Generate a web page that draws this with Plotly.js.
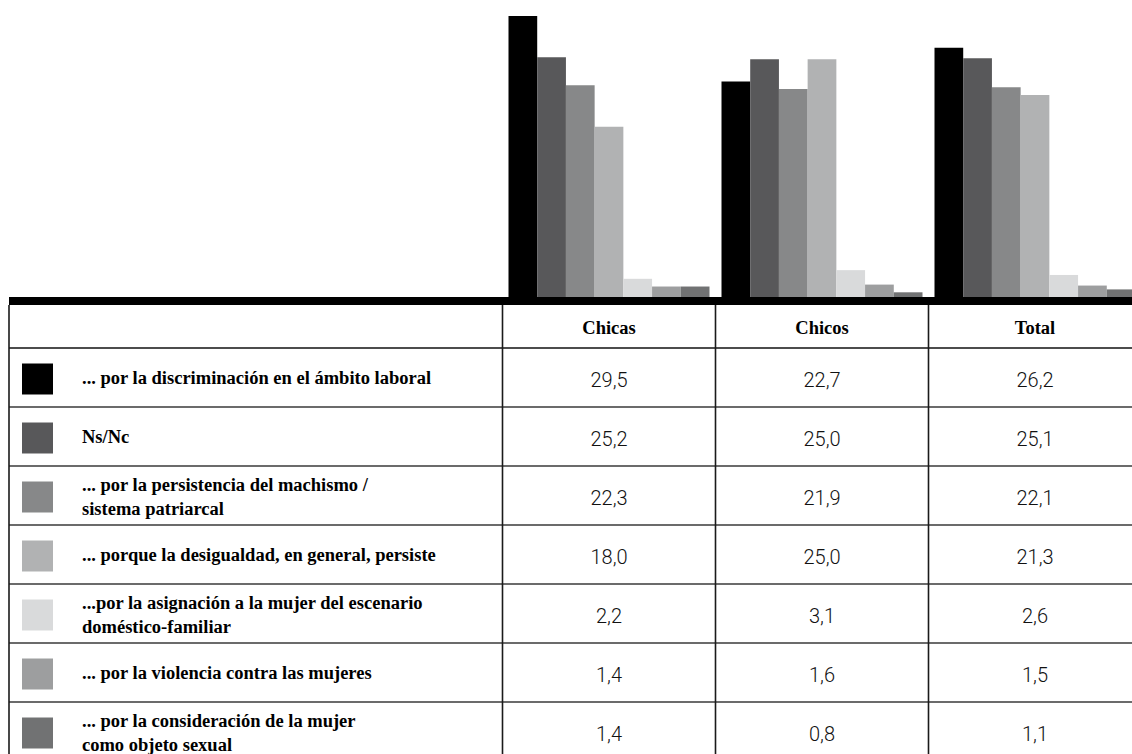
<!DOCTYPE html>
<html>
<head>
<meta charset="utf-8">
<script src="https://cdn.plot.ly/plotly-3.0.1.min.js"></script>
<style>
  html, body { margin: 0; padding: 0; background: #ffffff; }
  #chart { width: 1132px; height: 754px; }
</style>
</head>
<body>
<div id="chart"></div>
<script>
// ---------- data ----------
const groups = ['Chicas', 'Chicos', 'Total'];
const reasons = [
  '... por la discriminación en el ámbito laboral',
  'Ns/Nc',
  '... por la persistencia del machismo /<br>sistema patriarcal',
  '... porque la desigualdad, en general, persiste',
  '...por la asignación a la mujer del escenario<br>doméstico-familiar',
  '... por la violencia contra las mujeres',
  '... por la consideración de la mujer<br>como objeto sexual'
];
const chicas = [29.5, 25.2, 22.3, 18.0, 2.2, 1.4, 1.4];
const chicos = [22.7, 25.0, 21.9, 25.0, 3.1, 1.6, 0.8];
const total  = [26.2, 25.1, 22.1, 21.3, 2.6, 1.5, 1.1];
const colors = ['#000000', '#58585a', '#878889', '#b1b2b3', '#d9dadb', '#9d9e9f', '#717273'];

// ---------- layout constants (pixels) ----------
const W = 1132, H = 754;
const colW = 213;              // width of a data column
const firstColCenter = 609;    // centre of "Chicas" column
const tableLeft = 9;
const barBottom = 300;         // bar baseline pixel
const bandTop = 297, bandBot = 305;
const headerBot = 348;
const rowH = 59;
const pxPerUnit = 9.63;

const px2x = p => (p - firstColCenter) / colW;           // pixel -> x2 units
const py2row = p => (p - (headerBot + rowH / 2)) / rowH;  // pixel -> y2 units

const fmt = v => v.toFixed(1).replace('.', ',');
const serif = '"Liberation Serif", "Times New Roman", serif';
const light = 'Roboto, "Liberation Sans Narrow", "DejaVu Sans Condensed", sans-serif';

const traces = [];

// bars
reasons.forEach((r, i) => {
  traces.push({
    type: 'bar',
    x: groups,
    y: [chicas[i], chicos[i], total[i]],
    marker: { color: colors[i], line: { width: 0 } },
    name: r.replace('<br>', ' '),
    showlegend: false,
    hoverinfo: 'skip',
    xaxis: 'x', yaxis: 'y'
  });
});

// table: header
traces.push({
  type: 'scatter', mode: 'text',
  x: groups.map((g, i) => i),
  y: groups.map(() => py2row((bandBot + headerBot) / 2 + 3)),
  text: groups.map(g => '<b>' + g + '</b>'),
  textfont: { family: serif, size: 18.5, color: '#000' },
  textposition: 'middle center',
  hoverinfo: 'skip', showlegend: false,
  xaxis: 'x2', yaxis: 'y2', cliponaxis: false
});

// table: values
[chicas, chicos, total].forEach((arr, c) => {
  traces.push({
    type: 'scatter', mode: 'text',
    x: arr.map(() => c),
    y: arr.map((v, r) => r + 4.5 / rowH),
    text: arr.map(fmt),
    textfont: { family: light, size: 20, weight: 300, color: '#111' },
    textposition: 'middle center',
    hoverinfo: 'skip', showlegend: false,
    xaxis: 'x2', yaxis: 'y2', cliponaxis: false
  });
});

// table: swatches
traces.push({
  type: 'scatter', mode: 'markers',
  x: reasons.map(() => px2x(37.5)),
  y: reasons.map((r, i) => i + 1.5 / rowH),
  marker: { symbol: 'square', size: 31, color: colors, line: { width: 0 } },
  hoverinfo: 'skip', showlegend: false,
  xaxis: 'x2', yaxis: 'y2', cliponaxis: false
});

// table: labels
traces.push({
  type: 'scatter', mode: 'text',
  x: reasons.map(() => px2x(82)),
  y: reasons.map((r, i) => i + (r.indexOf('<br>') >= 0 ? 3 : 2) / rowH),
  text: reasons.map(r => '<b>' + r.split('<br>').join('</b><br><b>') + '</b>'),
  textfont: { family: serif, size: 18.5, color: '#000' },
  textposition: 'middle right',
  hoverinfo: 'skip', showlegend: false,
  xaxis: 'x2', yaxis: 'y2', cliponaxis: false
});

// ---------- shapes: table grid ----------
const shapes = [];
const x2Left = px2x(tableLeft), x2Right = px2x(W);
const y2Top = py2row(bandBot), y2Bot = py2row(H);
// horizontal lines: header bottom and row boundaries
for (let r = 0; r < reasons.length; r++) {
  shapes.push({
    type: 'line', xref: 'x2', yref: 'y2',
    x0: x2Left, x1: x2Right, y0: r - 0.5, y1: r - 0.5,
    line: { color: r === 0 ? '#111' : '#3a3a3a', width: 1.6 }
  });
}
// vertical lines: left border and column separators
[x2Left].concat(groups.map((g, i) => i - 0.5)).forEach(xv => {
  shapes.push({
    type: 'line', xref: 'x2', yref: 'y2',
    x0: xv, x1: xv, y0: y2Top, y1: y2Bot,
    line: { color: '#1a1a1a', width: 1.6 }
  });
});
// thick band under the bars
shapes.push({
  type: 'rect', xref: 'paper', yref: 'paper', layer: 'above',
  x0: tableLeft / W, x1: 1, y0: 1 - bandBot / H, y1: 1 - bandTop / H,
  fillcolor: '#000', line: { width: 0 }
});

const noAxis = { showgrid: false, zeroline: false, showticklabels: false, showline: false, ticks: '', fixedrange: true };

const layout = {
  width: W, height: H,
  margin: { l: 0, r: 0, t: 0, b: 0, pad: 0 },
  paper_bgcolor: '#ffffff',
  plot_bgcolor: 'rgba(0,0,0,0)',
  barmode: 'group',
  bargap: 12 / colW,
  bargroupgap: 0,
  showlegend: false,
  xaxis: Object.assign({}, noAxis, {
    type: 'category',
    domain: [(firstColCenter - colW / 2) / W, 1],
    range: [-0.5, px2x(W)],
    anchor: 'y'
  }),
  yaxis: Object.assign({}, noAxis, {
    domain: [1 - barBottom / H, 1],
    range: [0, barBottom / pxPerUnit],
    anchor: 'x'
  }),
  xaxis2: Object.assign({}, noAxis, {
    domain: [0, 1],
    range: [px2x(0), px2x(W)],
    anchor: 'y2'
  }),
  yaxis2: Object.assign({}, noAxis, {
    domain: [0, 1 - bandBot / H],
    range: [py2row(H), py2row(bandBot)],
    anchor: 'x2'
  }),
  shapes: shapes
};

Plotly.newPlot('chart', traces, layout, { displayModeBar: false, staticPlot: true });
</script>
</body>
</html>
